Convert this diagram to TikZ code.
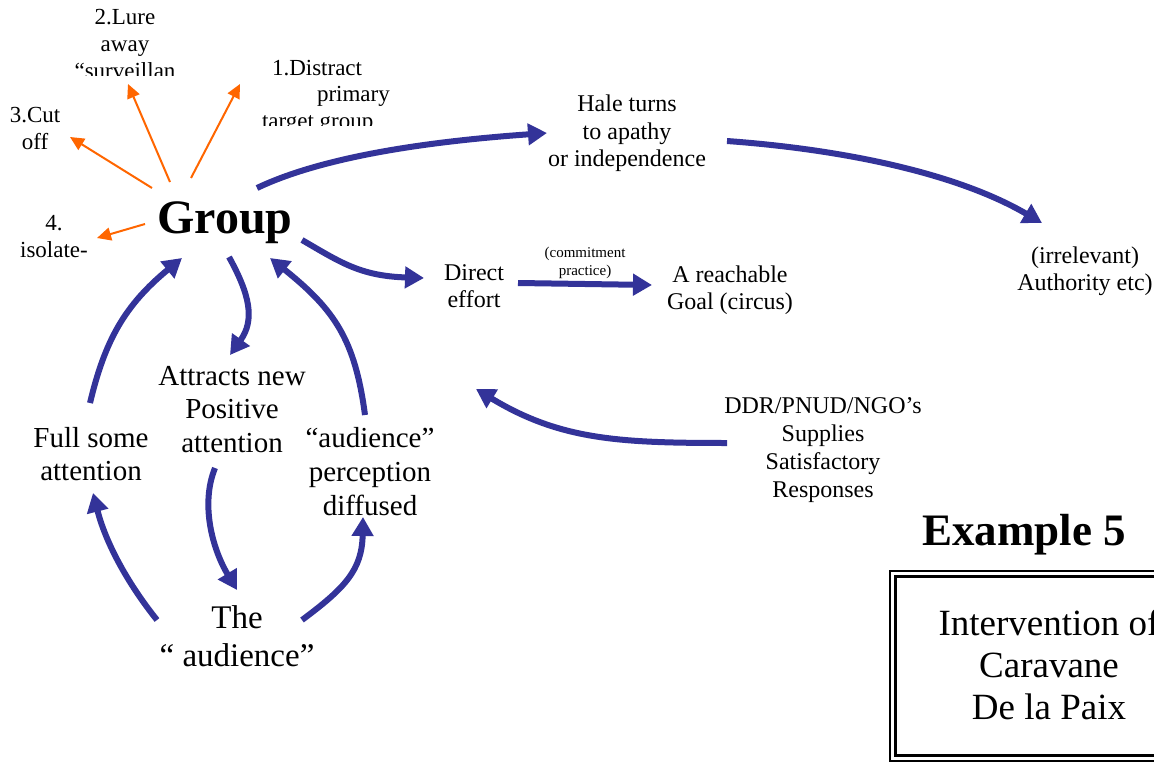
\documentclass[tikz,border=0pt]{standalone}
\usepackage{fontspec}
\setmainfont{Liberation Serif}
\usetikzlibrary{arrows.meta}
\definecolor{navy}{HTML}{333399}
\definecolor{orng}{HTML}{FF6600}
\newcommand{\tst}{\rule{0pt}{0.9em}}
\newcommand{\fsz}[2]{\fontsize{#1}{#2}\selectfont}
\begin{document}
\begin{tikzpicture}[x=1pt,y=-1pt,
  txt/.style={inner sep=0pt, outer sep=0pt, anchor=north, align=center},
  bluearr/.style={draw=navy, line width=6pt, -{Triangle[length=19pt,width=21pt]}},
  orarr/.style={draw=orng, line width=2pt, -{Triangle[length=14pt,width=13pt]}},
]
\useasboundingbox[fill=white] (0,0) rectangle (1154,765);

% ---- texts ----
\begin{scope}
  \clip (0,0) rectangle (300,76);
  \node[txt, font=\fsz{23}{27}] (lure) at (125,4.3) {\tst 2.Lure\\away\\“surveillan};
\end{scope}
\begin{scope}
  \clip (250,40) rectangle (420,126);
  \node[txt, anchor=north west, align=left, font=\fsz{23}{27}] (distract) at (262,54.3)
    {\tst\hspace*{10pt}1.Distract\\\hspace*{55pt}primary\\target group};
\end{scope}
\node[txt, font=\fsz{23}{27}] (cut) at (35,102.3) {\tst 3.Cut\\off};
\node[txt, font=\fsz{23}{27}] (isolate) at (54,209.3) {\tst 4.\\isolate-};
\node[inner sep=0pt, anchor=base, font=\fsz{48}{52}\bfseries] (grp) at (225,233) {Group};
\node[txt, font=\fsz{24}{27.5}] (hale) at (627,90.4) {\tst Hale turns\\to apathy\\or independence};
\node[txt, font=\fsz{24}{27.5}] (auth) at (1085,241.4) {\tst(irrelevant)\\Authority etc)};
\node[txt, font=\fsz{24}{27.5}] (direct) at (474,258.4) {\tst Direct\\effort};
\node[txt, font=\fsz{24}{27.5}] (goal) at (730,260.4) {\tst A reachable\\Goal (circus)};
\node[txt, font=\fsz{15}{18}] (commit) at (585,243.5) {\tst(commitment\\practice)};
\node[txt, font=\fsz{24}{28}] (ddr) at (823,391.4) {\tst DDR/PNUD/NGO’s\\Supplies\\Satisfactory\\Responses};
\node[txt, font=\fsz{29}{33.5}] (attr) at (232,358.9) {\tst Attracts new\\Positive\\attention};
\node[txt, font=\fsz{29}{33.5}] (full) at (91,420.9) {\tst Full some\\attention};
\node[txt, font=\fsz{29}{34}] (aud) at (370,420.9) {\tst“audience”\\perception\\diffused};
\node[txt, font=\fsz{33}{38}] (the) at (237,598.3) {\tst The\\“ audience”};
\node[inner sep=0pt, anchor=base, font=\fsz{45}{50}\bfseries] (ex) at (1024,545) {Example 5};
\node[txt, font=\fsz{37}{42}] (interv) at (1049,601.7) {\tst Intervention of\\Caravane\\De la Paix};

% ---- frame ----
\draw[line width=1.5pt] (890,571) rectangle (1175,761);
\draw[line width=3.5pt] (895.5,576.5) rectangle (1170,755.5);

% ---- connector end points ----
\coordinate (g1) at (152,188); \coordinate (c1) at (70,137);
\coordinate (g2) at (170,182); \coordinate (l2) at (128,84);
\coordinate (g3) at (191,178); \coordinate (d3) at (240,84);
\coordinate (g4) at (145,224); \coordinate (i4) at (97,238);
\coordinate (gh) at (257,188); \coordinate (hg) at (547,133);
\coordinate (ha) at (727,141); \coordinate (ah) at (1042,223);
\coordinate (gd) at (302,240); \coordinate (dg) at (424,278);
\coordinate (dr) at (518,283); \coordinate (rd) at (652,285);
\coordinate (dd) at (727,443); \coordinate (dt) at (476,389);
\coordinate (ga) at (229,257); \coordinate (ag) at (230,355);
\coordinate (at) at (215,468); \coordinate (ta) at (237,590);
\coordinate (tf) at (157,620); \coordinate (ft) at (93,493);
\coordinate (tp) at (302,620); \coordinate (pt) at (363,517);
\coordinate (fg) at (90,403);  \coordinate (gf) at (182,258);
\coordinate (pg) at (365,415); \coordinate (gp) at (270,258);

% ---- orange arrows ----
\draw[orarr] (g1) -- (c1);
\draw[orarr] (g2) -- (l2);
\draw[orarr] (g3) -- (d3);
\draw[orarr] (g4) -- (i4);

% ---- blue arrows ----
\draw[bluearr] (gh) .. controls (320,158) and (420,142) .. (hg);
\draw[bluearr] (ha) .. controls (850,150) and (960,175) .. (ah);
\draw[bluearr] (gd) .. controls (340,262) and (360,276) .. (dg);
\draw[bluearr] (dr) -- (rd);
\draw[bluearr] (dd) .. controls (620,443) and (560,440) .. (dt);
\draw[bluearr] (ga) .. controls (250,295) and (255,320) .. (ag);
\draw[bluearr] (at) .. controls (200,505) and (213,550) .. (ta);
\draw[bluearr] (tf) .. controls (125,580) and (105,540) .. (ft);
\draw[bluearr] (tp) .. controls (345,588) and (362,570) .. (pt);
\draw[bluearr] (fg) .. controls (105,340) and (125,305) .. (gf);
\draw[bluearr] (pg) .. controls (355,340) and (335,310) .. (gp);
\end{tikzpicture}
\end{document}
